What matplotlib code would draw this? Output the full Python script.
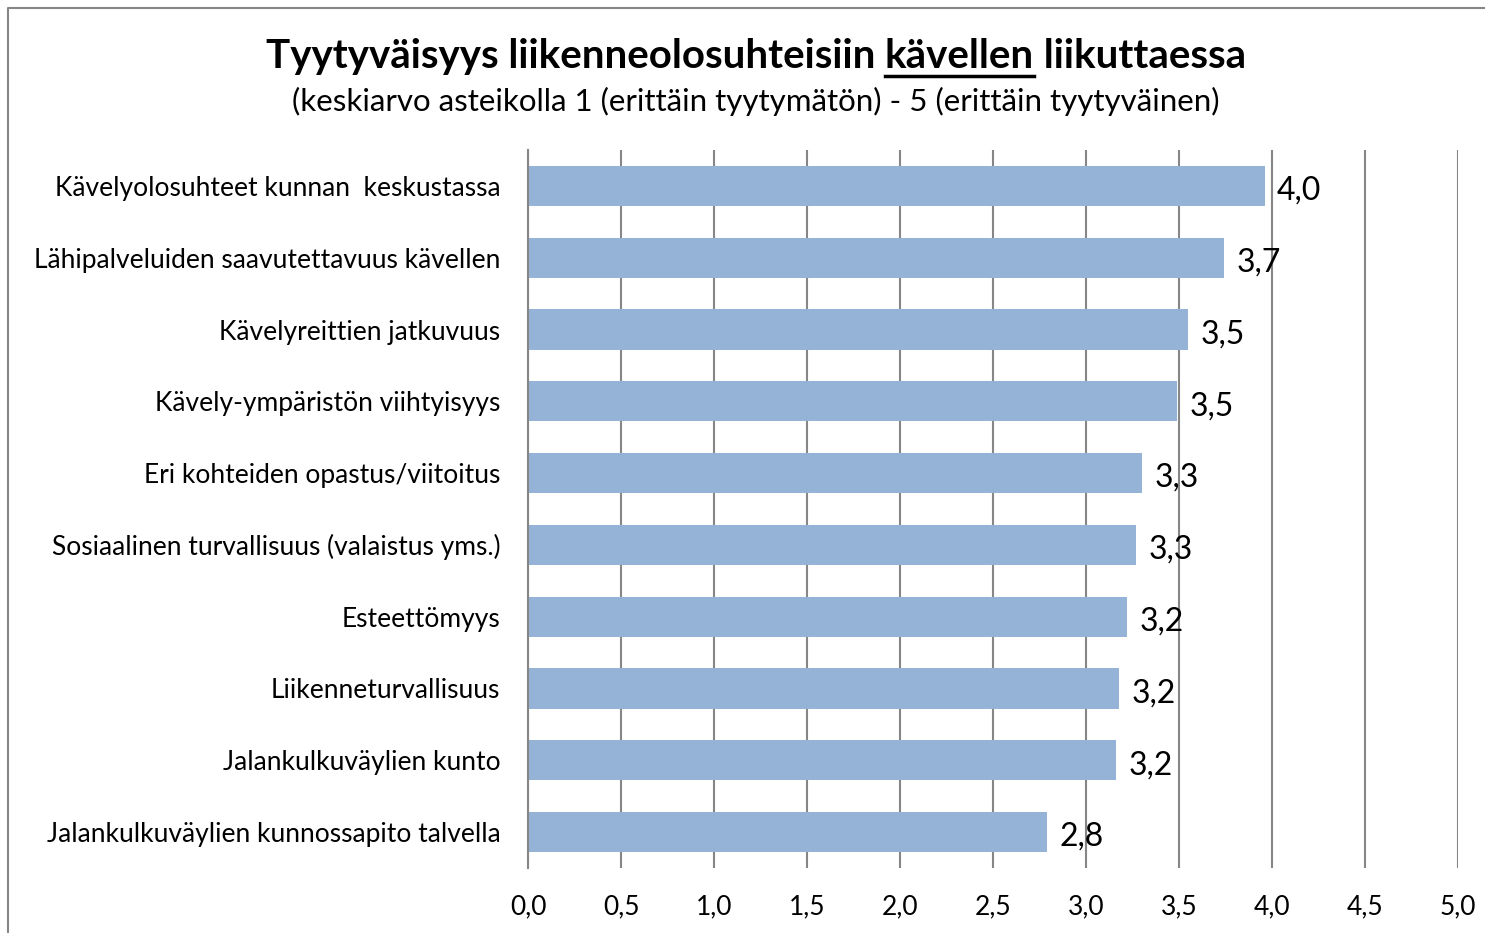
import matplotlib.pyplot as plt
from matplotlib.lines import Line2D

categories = [
    'Kävelyolosuhteet kunnan  keskustassa',
    'Lähipalveluiden saavutettavuus kävellen',
    'Kävelyreittien jatkuvuus',
    'Kävely-ympäristön viihtyisyys',
    'Eri kohteiden opastus/viitoitus',
    'Sosiaalinen turvallisuus (valaistus yms.)',
    'Esteettömyys',
    'Liikenneturvallisuus',
    'Jalankulkuväylien kunto',
    'Jalankulkuväylien kunnossapito talvella',
]
values = [3.96, 3.74, 3.55, 3.49, 3.30, 3.27, 3.22, 3.18, 3.16, 2.79]
xticks = [0, 0.5, 1, 1.5, 2, 2.5, 3, 3.5, 4, 4.5, 5]

plt.rcParams['font.family'] = ['Lato', 'DejaVu Sans']

fig = plt.figure(figsize=(14.85, 9.33), dpi=100)
ax = fig.add_axes([0.3556, 0.0697, 0.6262, 0.7695])

ypos = list(range(len(categories)))
ax.barh(ypos, values, height=0.56, color='#95B3D7', zorder=2)
ax.set_ylim(len(categories) - 0.5, -0.5)
ax.set_xlim(0, 5)
ax.set_xticks(xticks)
ax.set_xticklabels([f"{t:.1f}".replace('.', ',') for t in xticks], fontsize=19)
ax.set_yticks(ypos)
ax.set_yticklabels(categories, fontsize=19)
ax.tick_params(axis='x', length=0, pad=19)
ax.tick_params(axis='y', length=0, pad=20)
ax.grid(axis='x', color='#868686', linewidth=1.5, zorder=0)
for s in ['top', 'right', 'bottom']:
    ax.spines[s].set_visible(False)
ax.spines['left'].set_color('#868686')
ax.spines['left'].set_linewidth(1.5)

for y, v in zip(ypos, values):
    ax.annotate(f"{v:.1f}".replace('.', ','), (v, y), xytext=(9, -3.5),
                textcoords='offset points', va='center', ha='left', fontsize=23)

# title with underlined word
parts = ['Tyytyväisyys liikenneolosuhteisiin ', 'kävellen', ' liikuttaessa']
renderer = fig.canvas.get_renderer()
widths = []
for p in parts:
    t = fig.text(0, 0, p.replace(' ', '\u00a0'), fontsize=29, fontweight='bold')
    widths.append(t.get_window_extent(renderer).width / fig.bbox.width)
    t.remove()
x = 0.509 - sum(widths) / 2
ty = 0.939
for p, w in zip(parts, widths):
    fig.text(x, ty, p.replace(' ', '\u00a0'), fontsize=29, fontweight='bold', va='center', ha='left')
    if p == 'kävellen':
        fig.add_artist(Line2D([x, x + w], [ty - 0.02, ty - 0.02], color='black',
                              linewidth=2.5, transform=fig.transFigure))
    x += w

fig.text(0.509, 0.891, '(keskiarvo asteikolla 1 (erittäin tyytymätön) - 5 (erittäin tyytyväinen)',
         fontsize=22.5, ha='center', va='center')

# chart frame
fig.add_artist(Line2D([0.0055, 0.0055, 1.0], [0.0, 0.9915, 0.9915], color='#868686',
                      linewidth=1.5, transform=fig.transFigure))

fig.savefig('out.png', dpi=100)
